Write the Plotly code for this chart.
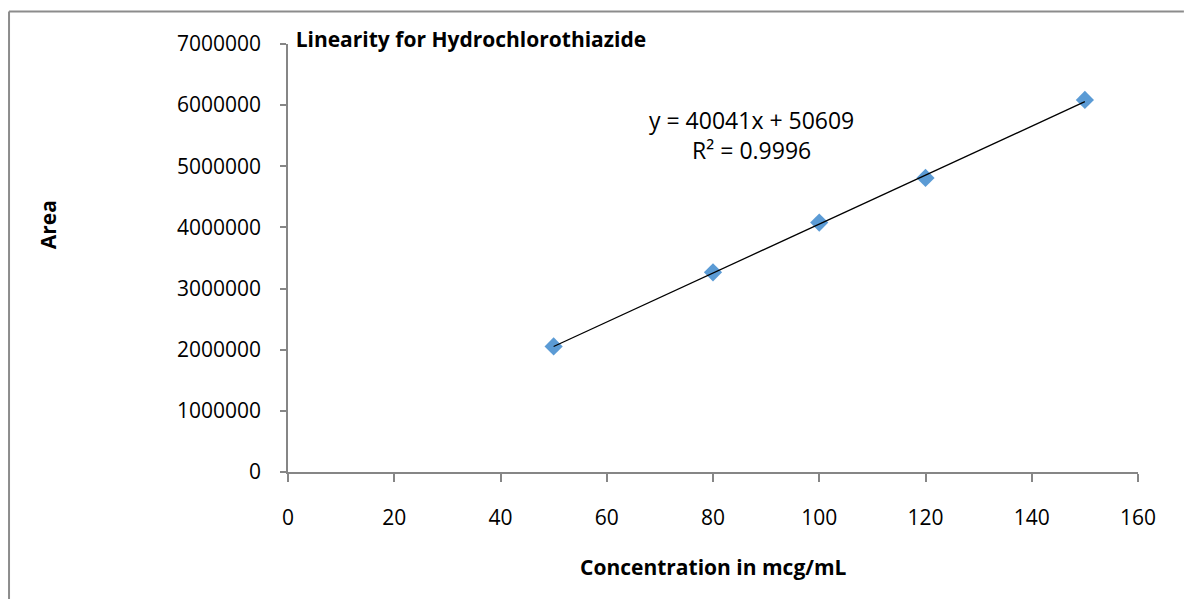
import plotly.graph_objects as go

# Données
concentration = [50, 80, 100, 120, 150]
area = [2054000, 3265000, 4080000, 4810000, 6085000]

# Droite de régression affichée
SLOPE = 40041
INTERCEPT = 50609
R2 = 0.9996

x_ticks = [0, 20, 40, 60, 80, 100, 120, 140, 160]
y_ticks = [0, 1000000, 2000000, 3000000, 4000000, 5000000, 6000000, 7000000]

BLUE = "#5B9BD5"
AXIS_GRAY = "#868686"
FRAME_GRAY = "#8C8C8C"
FONT = "Open Sans"

# la page ajoute 8 px de marge autour de la figure
W, H = 1176, 591

fit_x = [min(concentration), max(concentration)]
fit_y = [SLOPE * v + INTERCEPT for v in fit_x]

fig = go.Figure()
fig.add_trace(go.Scatter(
    x=concentration,
    y=area,
    mode="markers",
    marker=dict(symbol="diamond", size=14, color=BLUE),
    showlegend=False,
))
fig.add_trace(go.Scatter(
    x=fit_x,
    y=fit_y,
    mode="lines",
    line=dict(color="black", width=1.3),
    showlegend=False,
))

fig.update_xaxes(
    range=[0, 160],
    tickvals=x_ticks,
    ticktext=[str(v) for v in x_ticks],
    showgrid=False,
    zeroline=False,
    showline=True,
    linecolor=AXIS_GRAY,
    linewidth=1.5,
    ticks="outside",
    ticklen=8,
    tickcolor=AXIS_GRAY,
    tickwidth=1.5,
    ticklabelstandoff=18,
    tickfont=dict(family=FONT, size=21, color="black"),
)
fig.update_yaxes(
    range=[0, 7000000],
    tickvals=y_ticks,
    ticktext=[str(v) for v in y_ticks],
    showgrid=False,
    zeroline=False,
    showline=True,
    linecolor=AXIS_GRAY,
    linewidth=1.5,
    ticks="outside",
    ticklen=6,
    tickcolor=AXIS_GRAY,
    tickwidth=1.5,
    ticklabelstandoff=15,
    tickfont=dict(family=FONT, size=21, color="black"),
)

fig.update_layout(
    width=W,
    height=H,
    margin=dict(l=280, r=46, t=36, b=127),
    paper_bgcolor="white",
    plot_bgcolor="white",
    font=dict(family=FONT, color="black"),
    title=dict(
        text="<b>Linearity for Hydrochlorothiazide</b>",
        font=dict(family=FONT, size=21, color="black"),
        xref="paper", x=0.009, xanchor="left",
        yref="container", y=1 - 32 / H, yanchor="middle",
    ),
    shapes=[
        # cadre du graphique : seuls les bords haut et gauche sont visibles
        dict(type="line", xref="paper", yref="paper",
             x0=-0.3282, x1=1.054, y0=1.0759, y1=1.0759,
             line=dict(color=FRAME_GRAY, width=2), layer="below"),
        dict(type="line", xref="paper", yref="paper",
             x0=-0.3282, x1=-0.3282, y0=-0.298, y1=1.0759,
             line=dict(color=FRAME_GRAY, width=2), layer="below"),
    ],
    annotations=[
        dict(text=f"y = {SLOPE}x + {INTERCEPT}<br>R² = {R2}",
             xref="x", yref="y", x=87.2, y=5510000,
             showarrow=False, align="center",
             font=dict(family=FONT, size=23, color="black")),
        dict(text="<b>Area</b>", xref="paper", yref="paper",
             x=-0.301, y=(472 - 225) / 428, textangle=-90,
             showarrow=False, font=dict(family=FONT, size=21, color="black")),
        dict(text="<b>Concentration in mcg/mL</b>", xref="paper", yref="paper",
             x=0.5, y=(472 - 567) / 428, xanchor="center", yanchor="middle",
             showarrow=False, font=dict(family=FONT, size=21, color="black")),
    ],
)

fig.write_html("out.html")
